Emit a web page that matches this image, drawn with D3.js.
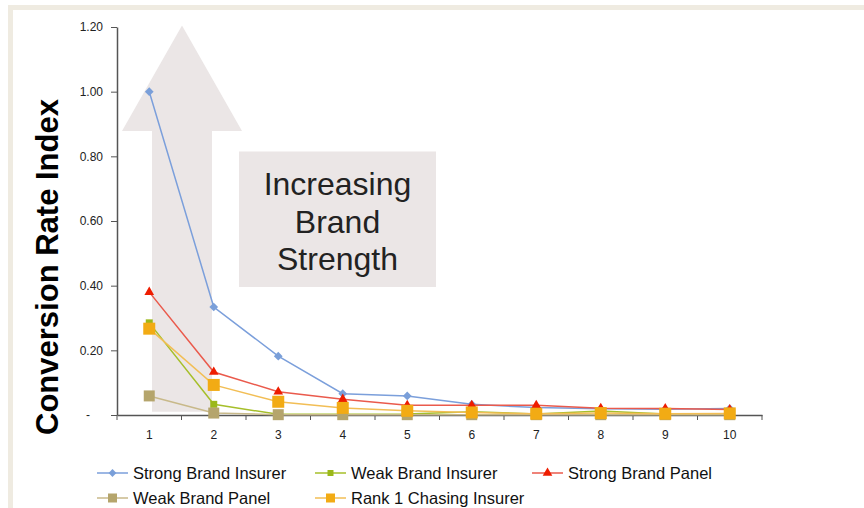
<!DOCTYPE html>
<html>
<head>
<meta charset="utf-8">
<script src="https://cdn.jsdelivr.net/npm/d3@7"></script>
<style>
  body { margin: 0; background: #fff; }
  svg { display: block; font-family: 'Liberation Sans', Arial, sans-serif; }
</style>
</head>
<body>
<div id="chart"></div>
<script>
// Data
const categories = [1, 2, 3, 4, 5, 6, 7, 8, 9, 10];
const strongBrandInsurer = [1.00, 0.334, 0.182, 0.066, 0.059, 0.033, 0.023, 0.019, 0.018, 0.020];
const weakBrandInsurer = [0.285, 0.033, 0.002, 0.002, 0.003, 0.010, 0.003, 0.012, 0.003, 0.003];
const strongBrandPanel = [0.380, 0.133, 0.072, 0.049, 0.030, 0.030, 0.030, 0.021, 0.020, 0.017];
const weakBrandPanel = [0.059, 0.006, 0.001, 0.001, 0.001, 0.001, 0.001, 0.001, 0.001, 0.001];
const rank1Chasing = [0.267, 0.093, 0.041, 0.022, 0.013, 0.008, 0.004, 0.006, 0.004, 0.005];
const yTicks = [0, 0.2, 0.4, 0.6, 0.8, 1.0, 1.2];

const seriesList = [
  { name: 'Strong Brand Insurer', values: strongBrandInsurer, line: '#7b9fdb', fill: '#7a9fd9', shape: 'diamond', size: 9, legendSize: 8 },
  { name: 'Weak Brand Insurer', values: weakBrandInsurer, line: '#a6bf2a', fill: '#9bb81a', shape: 'square', size: 7, legendSize: 6 },
  { name: 'Strong Brand Panel', values: strongBrandPanel, line: '#ea5a4c', fill: '#ee1d00', shape: 'triangle', size: 9, legendSize: 9 },
  { name: 'Weak Brand Panel', values: weakBrandPanel, line: '#c8b98a', fill: '#b5a56c', shape: 'square', size: 11, legendSize: 9 },
  { name: 'Rank 1 Chasing Insurer', values: rank1Chasing, line: '#f2be55', fill: '#f2ab14', shape: 'square', size: 12, legendSize: 9 }
];

const W = 864, H = 508;
const margin = { top: 27, right: 102, bottom: 93, left: 117 };
const width = W - margin.left - margin.right;
const height = H - margin.top - margin.bottom;

const svg = d3.select('#chart').append('svg')
  .attr('width', W)
  .attr('height', H);

// Frame
svg.append('rect')
  .attr('x', 10.5).attr('y', 7.5)
  .attr('width', W).attr('height', H)
  .attr('fill', '#fff')
  .attr('stroke', '#efebe1')
  .attr('stroke-width', 5);

const g = svg.append('g').attr('transform', `translate(${margin.left},${margin.top})`);

const x = d3.scaleBand().domain(categories).range([0, width]);
const y = d3.scaleLinear().domain([0, 1.2]).range([height, 0]);

// Arrow and label box (background)
const arrowColor = '#ebe6e6';
const arrow = [
  [x(1) + 35, y(0.01)], [x(1) + 35, y(0.878)], [x(1) + 5, y(0.878)],
  [x(1) + 65, y(1.205)],
  [x(2) + 60.5, y(0.878)], [x(2) + 30.5, y(0.878)], [x(2) + 30.5, y(0.01)]
];
g.append('path')
  .attr('d', d3.line()(arrow) + 'Z')
  .attr('fill', arrowColor);

const boxX0 = x(2) + 57.5, boxX1 = x(5) + 61;
g.append('rect')
  .attr('x', boxX0).attr('y', y(0.815))
  .attr('width', boxX1 - boxX0)
  .attr('height', y(0.396) - y(0.815))
  .attr('fill', arrowColor);

const boxLines = ['Increasing', 'Brand', 'Strength'];
g.append('text')
  .attr('x', (boxX0 + boxX1) / 2)
  .attr('y', y(0.815) + 44)
  .attr('text-anchor', 'middle')
  .attr('font-size', 32)
  .attr('fill', '#222')
  .selectAll('tspan')
  .data(boxLines)
  .enter().append('tspan')
  .attr('x', (boxX0 + boxX1) / 2)
  .attr('dy', (d, i) => i === 0 ? 0 : 37.5)
  .text(d => d);

// Axes
const yAxis = g.append('g')
  .call(d3.axisLeft(y).tickValues(yTicks).tickSize(6).tickSizeOuter(0)
    .tickFormat(d => d === 0 ? '-' : d3.format('.2f')(d)));
yAxis.select('.domain').attr('stroke', '#555').attr('stroke-width', 1.5);
yAxis.selectAll('.tick line').attr('stroke', '#555');
yAxis.selectAll('.tick text').attr('font-size', 12).attr('fill', '#222')
  .attr('dx', d => d === 0 ? -18 : -5);

const xAxis = g.append('g').attr('transform', `translate(0,${height})`)
  .call(d3.axisBottom(x).tickSize(0));
xAxis.select('.domain').attr('stroke', '#555').attr('stroke-width', 1.5);
xAxis.selectAll('.tick text').attr('font-size', 12).attr('fill', '#222').attr('y', 15);
xAxis.selectAll('.sep')
  .data(d3.range(categories.length + 1))
  .enter().append('line')
  .attr('x1', i => i * x.bandwidth()).attr('x2', i => i * x.bandwidth())
  .attr('y1', 0).attr('y2', 5)
  .attr('stroke', '#555');

// Y axis title
svg.append('text')
  .attr('transform', 'translate(58,267) rotate(-90)')
  .attr('text-anchor', 'middle')
  .attr('font-size', 31)
  .attr('font-weight', 'bold')
  .attr('fill', '#000')
  .text('Conversion Rate Index');

// Markers
function symbolFor(shape, size) {
  if (shape === 'diamond') return d3.symbol().type(d3.symbolDiamond2).size(size * size * 0.6)();
  if (shape === 'triangle') return d3.symbol().type(d3.symbolTriangle).size(size * size * 0.5)();
  return d3.symbol().type(d3.symbolSquare).size(size * size)();
}

const lineGen = d3.line()
  .x((d, i) => x(categories[i]) + x.bandwidth() / 2)
  .y(d => y(d));

seriesList.forEach(s => {
  g.append('path')
    .attr('d', lineGen(s.values))
    .attr('fill', 'none')
    .attr('stroke', s.line)
    .attr('stroke-width', 1.5);
  g.selectAll(null)
    .data(s.values)
    .enter().append('path')
    .attr('transform', (d, i) => `translate(${x(categories[i]) + x.bandwidth() / 2},${y(d)})`)
    .attr('d', symbolFor(s.shape, s.size))
    .attr('fill', s.fill);
});

// Legend
const legendPos = [[97, 473], [315, 473], [532, 473], [97, 498], [315, 498]];
const legend = svg.append('g');
seriesList.forEach((s, i) => {
  const [lx, ly] = legendPos[i];
  const item = legend.append('g').attr('transform', `translate(${lx},${ly})`);
  item.append('line').attr('x1', 0).attr('x2', 31).attr('y1', 0).attr('y2', 0)
    .attr('stroke', s.line).attr('stroke-width', 1.5);
  item.append('path').attr('transform', 'translate(15.5,0)')
    .attr('d', symbolFor(s.shape, s.legendSize))
    .attr('fill', s.fill);
  item.append('text').attr('x', 36).attr('y', 6)
    .attr('font-size', 16.5).attr('fill', '#111')
    .text(s.name);
});
</script>
</body>
</html>
